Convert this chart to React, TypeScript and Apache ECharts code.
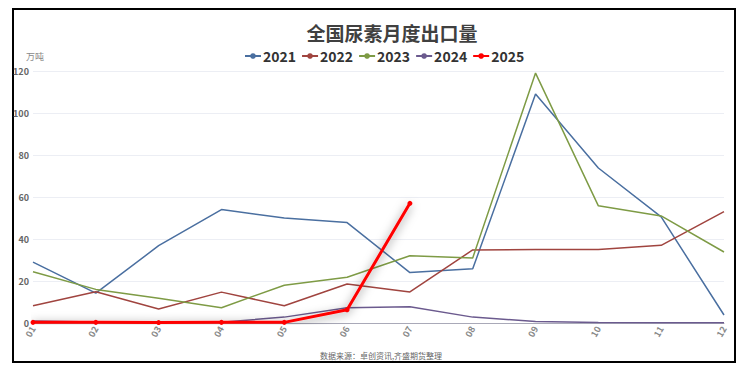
import React, { useEffect, useRef } from "react";
import * as echarts from "echarts";

const months = ["01", "02", "03", "04", "05", "06", "07", "08", "09", "10", "11", "12"];
const years = ["2021", "2022", "2023", "2024", "2025"];
const v2021 = [29, 14.2, 36.8, 54, 50, 47.8, 24, 25.8, 109, 73.8, 50.5, 3.8];
const v2022 = [8.2, 14.9, 6.7, 14.7, 8.2, 18.6, 14.8, 34.8, 35, 35, 37, 53];
const v2023 = [24.4, 16, 11.8, 7.3, 18, 21.8, 32, 31, 119, 55.8, 51, 33.8];
const v2024 = [1, 0.5, 0.3, 0.4, 2.8, 7.3, 7.7, 2.8, 0.7, 0.2, 0.1, 0.1];
const v2025 = [0.3, 0.3, 0.2, 0.3, 0.3, 6.3, 57];
const colors = ["#4a6fa0", "#a0443f", "#7e9b45", "#6b5a8e", "#ff0000"];

const FONT = "'Noto Sans CJK SC', 'Noto Sans', sans-serif";

export default function App() {
  const ref = useRef<HTMLDivElement>(null);
  useEffect(() => {
    if (!ref.current) return;
    const chart = echarts.init(ref.current, undefined, { renderer: "svg" });
    const values = [v2021, v2022, v2023, v2024, v2025];
    const series: any[] = values.map((d, i) => {
      const is25 = i === 4;
      return {
        name: years[i],
        type: "line",
        data: d,
        symbol: "circle",
        symbolSize: is25 ? 5 : 4,
        showSymbol: is25,
        lineStyle: is25
          ? { width: 3, color: colors[i], shadowColor: "rgba(0,0,0,0.5)", shadowBlur: 10, shadowOffsetY: 2 }
          : { width: 1.5, color: colors[i] },
        itemStyle: { color: colors[i] },
        z: is25 ? 10 : 2,
      };
    });
    chart.setOption({
      animation: false,
      color: colors,
      title: {
        text: "全国尿素月度出口量",
        left: 387,
        top: 18,
        textAlign: "center",
        textStyle: { fontSize: 19, fontWeight: "bold", color: "#404040", fontFamily: FONT },
      },
      legend: {
        data: years,
        left: 239,
        top: 44,
        itemWidth: 16,
        itemHeight: 7,
        itemGap: 5,
        textStyle: { fontSize: 14, fontWeight: "bold", color: "#333", fontFamily: FONT, padding: [0, 0, 0, -3] },
      },
      grid: { left: 33, right: 19, top: 71, bottom: 45, containLabel: false },
      xAxis: {
        type: "category",
        data: months,
        boundaryGap: false,
        axisLine: { lineStyle: { color: "#a9a9b8" } },
        axisTick: { show: false },
        axisLabel: { rotate: 60, fontSize: 9, color: "#888", fontWeight: "bold", margin: 4, fontFamily: FONT },
      },
      yAxis: {
        type: "value",
        min: 0,
        max: 120,
        interval: 20,
        name: "万吨",
        nameGap: 10,
        nameTextStyle: { fontSize: 9, color: "#888", fontFamily: FONT, align: "center", padding: [0, 0, 0, 4] },
        axisLine: { show: false },
        axisTick: { show: false },
        axisLabel: { fontSize: 9, color: "#666", fontWeight: "bold", margin: 4, fontFamily: FONT },
        splitLine: { lineStyle: { color: "#eceef4", width: 1 } },
      },
      graphic: [
        {
          type: "rect",
          shape: { x: 13, y: 9, width: 722, height: 353 },
          style: { fill: "none", stroke: "#000", lineWidth: 2 },
          silent: true,
        },
        {
          type: "text",
          x: 381,
          y: 355,
          style: {
            text: "数据来源：卓创资讯,齐盛期货整理",
            fontSize: 8,
            fill: "#666",
            fontFamily: FONT,
            align: "center",
            verticalAlign: "middle",
          },
        },
      ],
      series,
    });
    return () => chart.dispose();
  }, []);
  return (
    <div
      ref={ref}
      style={{ position: "fixed", left: 0, top: 0, width: 743, height: 368, background: "#fff" }}
    />
  );
}
